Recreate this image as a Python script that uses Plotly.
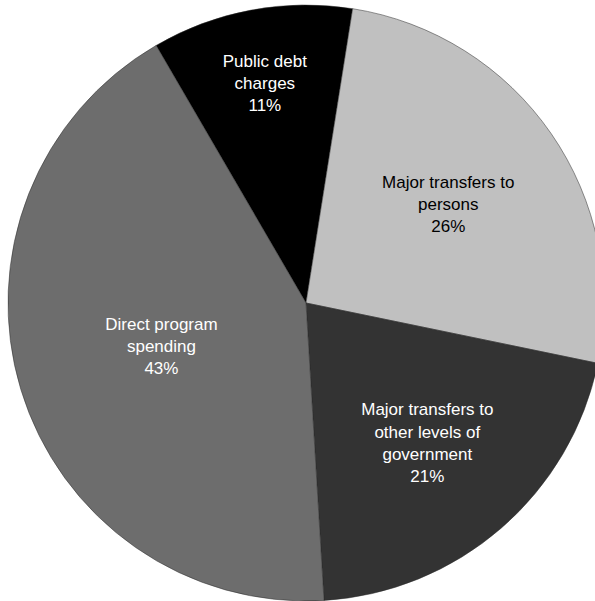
import plotly.graph_objects as go

# Federal expenses by component (share of total, %)
categories = [
    "Public debt<br>charges",
    "Major transfers to<br>persons",
    "Major transfers to<br>other levels of<br>government",
    "Direct program<br>spending",
]
shares = [11, 26, 21, 43]
colors = ["#000000", "#c0c0c0", "#333333", "#6d6d6d"]
text_colors = ["#ffffff", "#000000", "#ffffff", "#ffffff"]

W, H = 612, 601

fig = go.Figure(
    go.Pie(
        labels=categories,
        values=shares,
        text=[f"{c}<br>{v}%" for c, v in zip(categories, shares)],
        textinfo="text",
        textposition="inside",
        insidetextorientation="horizontal",
        textfont=dict(family="Liberation Sans, Arial, sans-serif", size=17, color=text_colors),
        marker=dict(colors=colors, line=dict(color="#2a2a2a", width=0.5)),
        sort=False,
        direction="clockwise",
        rotation=-30.2,
        hoverinfo="label+percent",
        showlegend=False,
        domain=dict(x=[8 / W, 604 / W], y=[0, 596 / H]),
    )
)

fig.update_layout(
    width=W,
    height=H,
    margin=dict(l=0, r=0, t=0, b=0),
    paper_bgcolor="#ffffff",
    plot_bgcolor="#ffffff",
    uniformtext=dict(minsize=17, mode="show"),
)

fig.write_html(
    "out.html",
    post_script="document.documentElement.style.overflow='hidden';document.body.style.overflow='hidden';",
)
